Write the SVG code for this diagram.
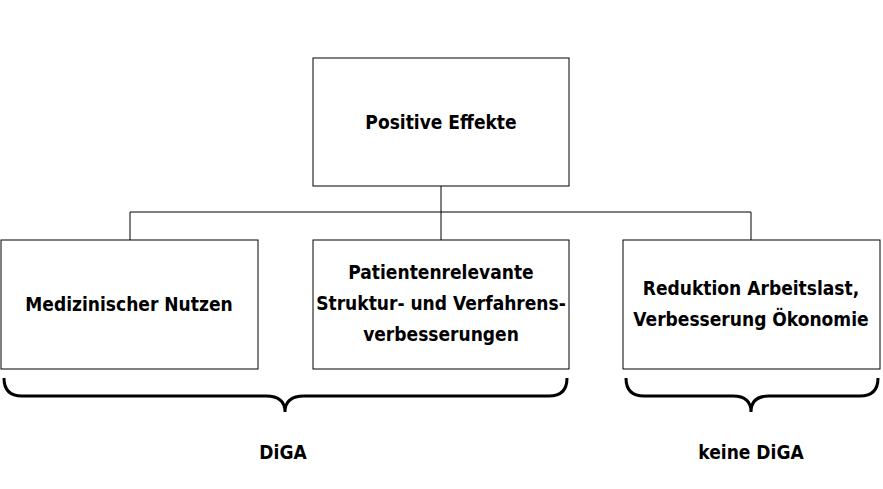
<svg xmlns="http://www.w3.org/2000/svg" width="883" height="489" viewBox="0 0 883 489">
<style>
.box{fill:#fff;stroke:#000;stroke-width:1}
.t{font-family:"DejaVu Sans Condensed","DejaVu Sans",sans-serif;font-stretch:condensed;font-weight:bold;font-size:19px;text-anchor:middle;fill:#000}
.c{fill:none;stroke:#000;stroke-width:1}
.b{fill:none;stroke:#000;stroke-width:3}
</style>
<rect width="883" height="489" fill="#fff"/>
<g id="connectors">
<path class="c" d="M441 186V212M130 212H751M130 212V240M441 212V240M751 212V240"/>
</g>
<g id="n0"><rect class="box" x="313" y="58" width="256" height="128"/><text class="t" x="441" y="129">Positive Effekte</text></g>
<g id="n1"><rect class="box" x="1" y="240" width="257" height="129"/><text class="t" x="129" y="311">Medizinischer Nutzen</text></g>
<g id="n2"><rect class="box" x="313" y="240" width="256" height="129"/><text class="t" x="441" y="279">Patientenrelevante</text><text class="t" x="441" y="310">Struktur- und Verfahrens-</text><text class="t" x="441" y="341">verbesserungen</text></g>
<g id="n3"><rect class="box" x="623" y="240" width="257" height="129"/><text class="t" x="751" y="295">Reduktion Arbeitslast,</text><text class="t" x="751" y="326">Verbesserung Ökonomie</text></g>
<g id="braces">
<path class="b" d="M4 378Q4 396 22 396H266Q285 396 285 412Q285 396 304 396H549Q567 396 567 378"/>
<path class="b" d="M626 378Q626 396 644 396H733Q751 396 751 412Q751 396 769 396H860Q878 396 878 378"/>
</g>
<text class="t" x="283" y="459">DiGA</text>
<text class="t" x="751" y="459">keine DiGA</text>
</svg>
